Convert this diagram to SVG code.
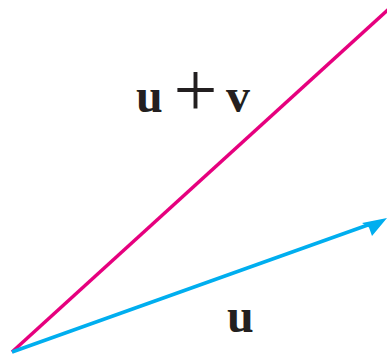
<svg xmlns="http://www.w3.org/2000/svg" width="387" height="356" viewBox="0 0 387 356">
<style>
.lbl{font-family:"Liberation Serif","Times New Roman",serif;font-weight:bold;fill:#231f20;font-size:48px}
.op{font-family:"Liberation Serif","Times New Roman",serif;font-weight:normal;fill:#231f20;font-size:78px}
</style>
<rect width="387" height="356" fill="#ffffff"/>
<g id="connectors">
<line id="sum" x1="12" y1="352" x2="392" y2="6" stroke="#e6007e" stroke-width="3.5"/>
<line id="u-vec" x1="12" y1="352" x2="372" y2="223.5" stroke="#00aeef" stroke-width="3.5"/>
<polygon id="u-head" points="387,218 362,223 369,227.5 372,236" fill="#00aeef"/>
</g>
<g id="label-sum">
<text class="lbl" x="136" y="112">u</text>
<text class="op" x="195.5" y="116" text-anchor="middle">+</text>
<text class="lbl" x="226" y="112">v</text>
</g>
<g id="label-u">
<text class="lbl" x="227" y="332">u</text>
</g>
</svg>
